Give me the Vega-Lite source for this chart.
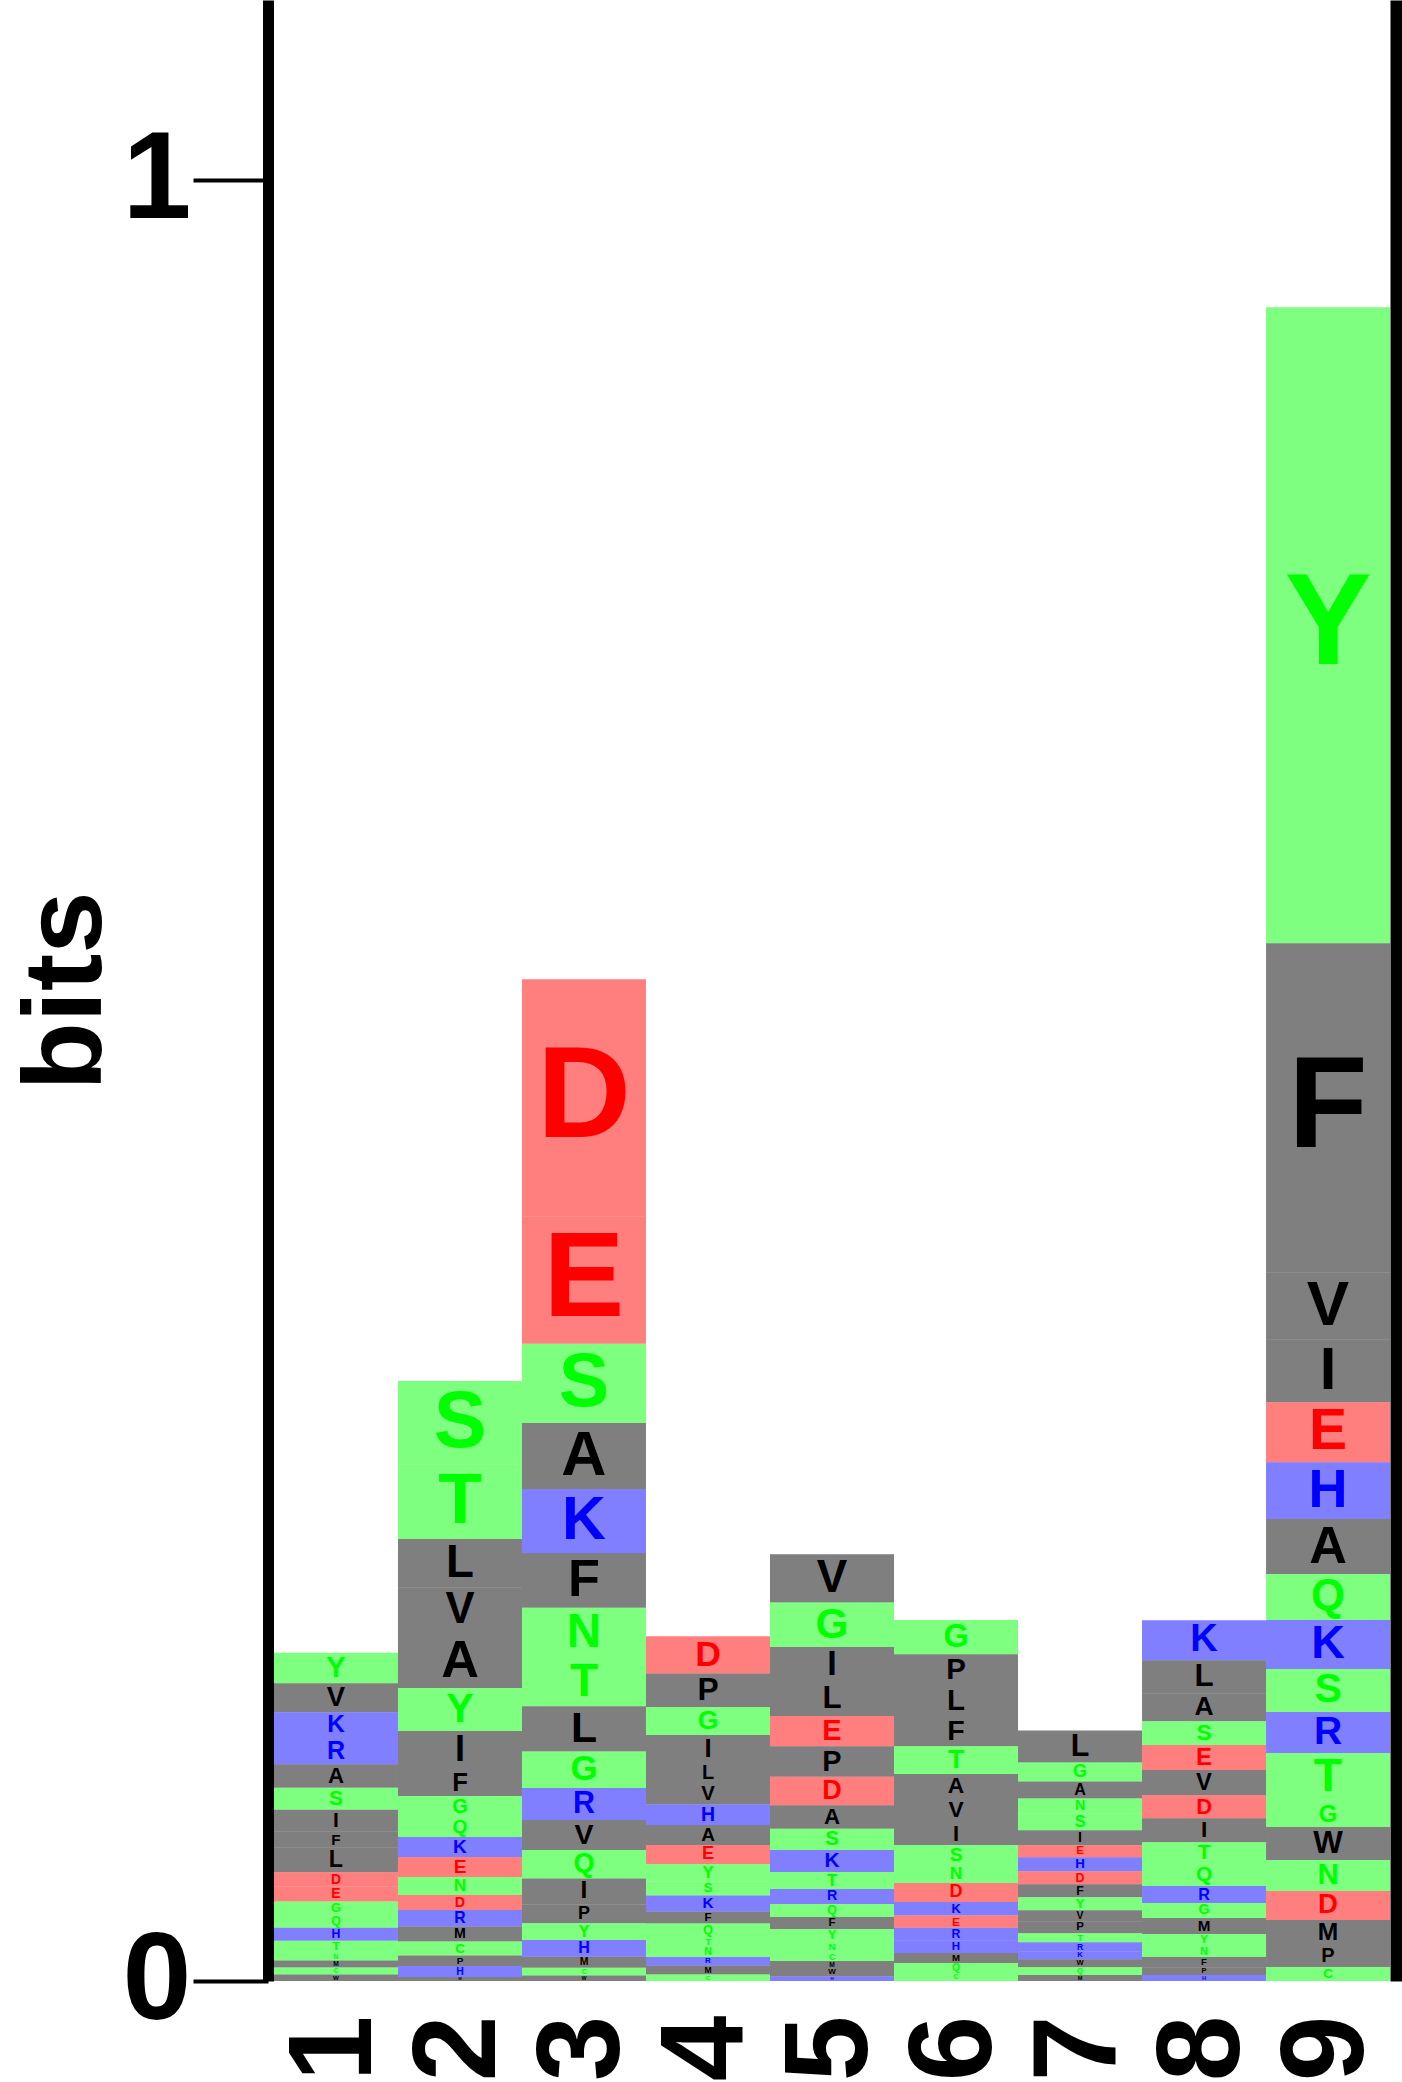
{
  "$schema": "https://vega.github.io/schema/vega-lite/v6.json",
  "width": 1128,
  "height": 1981,
  "autosize": {"type": "none"},
  "padding": {"left": 268, "top": 0, "right": 6, "bottom": 101},
  "background": "white",
  "config": {"view": {"stroke": null}},
  "data": {"values": [
    {"p":"1","a":"Y","b":0.0169},{"p":"1","a":"V","b":0.0161},{"p":"1","a":"K","b":0.0142},{"p":"1","a":"R","b":0.0147},{"p":"1","a":"A","b":0.0130},{"p":"1","a":"S","b":0.0122},{"p":"1","a":"I","b":0.0122},{"p":"1","a":"F","b":0.0089},{"p":"1","a":"L","b":0.0136},{"p":"1","a":"D","b":0.0081},{"p":"1","a":"E","b":0.0081},{"p":"1","a":"G","b":0.0075},{"p":"1","a":"Q","b":0.0072},{"p":"1","a":"H","b":0.0072},{"p":"1","a":"T","b":0.0067},{"p":"1","a":"N","b":0.0042},{"p":"1","a":"M","b":0.0039},{"p":"1","a":"C","b":0.0039},{"p":"1","a":"W","b":0.0036},
    {"p":"2","a":"S","b":0.0461},{"p":"2","a":"T","b":0.0416},{"p":"2","a":"L","b":0.0267},{"p":"2","a":"V","b":0.0255},{"p":"2","a":"A","b":0.0305},{"p":"2","a":"Y","b":0.0239},{"p":"2","a":"I","b":0.0211},{"p":"2","a":"F","b":0.0150},{"p":"2","a":"G","b":0.0117},{"p":"2","a":"Q","b":0.0111},{"p":"2","a":"K","b":0.0111},{"p":"2","a":"E","b":0.0111},{"p":"2","a":"N","b":0.0100},{"p":"2","a":"D","b":0.0083},{"p":"2","a":"R","b":0.0092},{"p":"2","a":"M","b":0.0083},{"p":"2","a":"C","b":0.0078},{"p":"2","a":"P","b":0.0058},{"p":"2","a":"H","b":0.0061},{"p":"2","a":"W","b":0.0022},
    {"p":"3","a":"D","b":0.1316},{"p":"3","a":"E","b":0.0708},{"p":"3","a":"S","b":0.0441},{"p":"3","a":"A","b":0.0366},{"p":"3","a":"K","b":0.0355},{"p":"3","a":"F","b":0.0305},{"p":"3","a":"N","b":0.0278},{"p":"3","a":"T","b":0.0269},{"p":"3","a":"L","b":0.0250},{"p":"3","a":"G","b":0.0203},{"p":"3","a":"R","b":0.0178},{"p":"3","a":"V","b":0.0167},{"p":"3","a":"Q","b":0.0158},{"p":"3","a":"I","b":0.0144},{"p":"3","a":"P","b":0.0105},{"p":"3","a":"Y","b":0.0092},{"p":"3","a":"H","b":0.0094},{"p":"3","a":"M","b":0.0061},{"p":"3","a":"C","b":0.0042},{"p":"3","a":"W","b":0.0031},
    {"p":"4","a":"D","b":0.0208},{"p":"4","a":"P","b":0.0186},{"p":"4","a":"G","b":0.0155},{"p":"4","a":"I","b":0.0150},{"p":"4","a":"L","b":0.0117},{"p":"4","a":"V","b":0.0119},{"p":"4","a":"H","b":0.0114},{"p":"4","a":"A","b":0.0111},{"p":"4","a":"E","b":0.0105},{"p":"4","a":"Y","b":0.0097},{"p":"4","a":"S","b":0.0078},{"p":"4","a":"K","b":0.0089},{"p":"4","a":"F","b":0.0067},{"p":"4","a":"Q","b":0.0075},{"p":"4","a":"T","b":0.0050},{"p":"4","a":"N","b":0.0061},{"p":"4","a":"R","b":0.0047},{"p":"4","a":"M","b":0.0050},{"p":"4","a":"C","b":0.0036},
    {"p":"5","a":"V","b":0.0267},{"p":"5","a":"G","b":0.0247},{"p":"5","a":"I","b":0.0200},{"p":"5","a":"L","b":0.0183},{"p":"5","a":"E","b":0.0169},{"p":"5","a":"P","b":0.0169},{"p":"5","a":"D","b":0.0158},{"p":"5","a":"A","b":0.0130},{"p":"5","a":"S","b":0.0119},{"p":"5","a":"K","b":0.0122},{"p":"5","a":"T","b":0.0094},{"p":"5","a":"R","b":0.0083},{"p":"5","a":"Q","b":0.0072},{"p":"5","a":"F","b":0.0067},{"p":"5","a":"Y","b":0.0072},{"p":"5","a":"N","b":0.0056},{"p":"5","a":"C","b":0.0050},{"p":"5","a":"M","b":0.0039},{"p":"5","a":"W","b":0.0047},{"p":"5","a":"H","b":0.0025},
    {"p":"6","a":"G","b":0.0189},{"p":"6","a":"P","b":0.0172},{"p":"6","a":"L","b":0.0172},{"p":"6","a":"F","b":0.0167},{"p":"6","a":"T","b":0.0155},{"p":"6","a":"A","b":0.0133},{"p":"6","a":"V","b":0.0133},{"p":"6","a":"I","b":0.0128},{"p":"6","a":"S","b":0.0111},{"p":"6","a":"N","b":0.0100},{"p":"6","a":"D","b":0.0105},{"p":"6","a":"K","b":0.0075},{"p":"6","a":"E","b":0.0069},{"p":"6","a":"R","b":0.0072},{"p":"6","a":"H","b":0.0067},{"p":"6","a":"M","b":0.0056},{"p":"6","a":"Q","b":0.0061},{"p":"6","a":"C","b":0.0039},
    {"p":"7","a":"L","b":0.0178},{"p":"7","a":"G","b":0.0105},{"p":"7","a":"A","b":0.0094},{"p":"7","a":"N","b":0.0083},{"p":"7","a":"S","b":0.0094},{"p":"7","a":"I","b":0.0083},{"p":"7","a":"E","b":0.0067},{"p":"7","a":"H","b":0.0078},{"p":"7","a":"D","b":0.0072},{"p":"7","a":"F","b":0.0072},{"p":"7","a":"Y","b":0.0072},{"p":"7","a":"V","b":0.0061},{"p":"7","a":"P","b":0.0067},{"p":"7","a":"T","b":0.0050},{"p":"7","a":"R","b":0.0050},{"p":"7","a":"K","b":0.0044},{"p":"7","a":"W","b":0.0044},{"p":"7","a":"Q","b":0.0044},{"p":"7","a":"M","b":0.0033},
    {"p":"8","a":"K","b":0.0222},{"p":"8","a":"L","b":0.0183},{"p":"8","a":"A","b":0.0155},{"p":"8","a":"S","b":0.0133},{"p":"8","a":"E","b":0.0139},{"p":"8","a":"V","b":0.0139},{"p":"8","a":"D","b":0.0128},{"p":"8","a":"I","b":0.0133},{"p":"8","a":"T","b":0.0122},{"p":"8","a":"Q","b":0.0122},{"p":"8","a":"R","b":0.0094},{"p":"8","a":"G","b":0.0083},{"p":"8","a":"M","b":0.0089},{"p":"8","a":"Y","b":0.0067},{"p":"8","a":"N","b":0.0061},{"p":"8","a":"F","b":0.0056},{"p":"8","a":"P","b":0.0044},{"p":"8","a":"H","b":0.0033},
    {"p":"9","a":"Y","b":0.3531},{"p":"9","a":"F","b":0.1827},{"p":"9","a":"V","b":0.0372},{"p":"9","a":"I","b":0.0350},{"p":"9","a":"E","b":0.0333},{"p":"9","a":"H","b":0.0316},{"p":"9","a":"A","b":0.0305},{"p":"9","a":"Q","b":0.0255},{"p":"9","a":"K","b":0.0272},{"p":"9","a":"S","b":0.0239},{"p":"9","a":"R","b":0.0228},{"p":"9","a":"T","b":0.0272},{"p":"9","a":"G","b":0.0139},{"p":"9","a":"W","b":0.0183},{"p":"9","a":"N","b":0.0172},{"p":"9","a":"D","b":0.0161},{"p":"9","a":"M","b":0.0144},{"p":"9","a":"P","b":0.0117},{"p":"9","a":"C","b":0.0078}
  ]},
  "transform": [
    {"window": [{"op": "row_number", "as": "o"}], "groupby": ["p"]},
    {"stack": "b", "groupby": ["p"], "sort": [{"field": "o", "order": "descending"}], "as": ["b0", "b1"]},
    {"calculate": "(datum.b0 + datum.b1) / 2", "as": "m"}
  ],
  "encoding": {
    "x": {
      "field": "p", "type": "ordinal",
      "scale": {"paddingInner": 0, "paddingOuter": 0.048},
      "axis": {
        "title": null, "domain": false, "ticks": false, "tickSize": 0, "grid": false,
        "labelAngle": -90, "labelAlign": "right", "labelBaseline": "middle",
        "labelFont": "Liberation Sans", "labelFontWeight": "bold", "labelFontSize": 118,
        "labelColor": "black", "labelPadding": 34
      }
    },
    "color": {
      "field": "a", "type": "nominal", "legend": null,
      "scale": {
        "domain": ["A","V","L","I","P","W","F","M","G","S","T","Y","C","Q","N","K","R","H","D","E"],
        "range": ["#000000","#000000","#000000","#000000","#000000","#000000","#000000","#000000","#00ff00","#00ff00","#00ff00","#00ff00","#00ff00","#00ff00","#00ff00","#0000ff","#0000ff","#0000ff","#ff0000","#ff0000"]
      }
    }
  },
  "layer": [
    {
      "mark": {"type": "bar", "fillOpacity": 0.5, "strokeWidth": 0},
      "encoding": {
        "y": {
          "field": "b0", "type": "quantitative",
          "scale": {"domain": [0, 1.1], "nice": false, "zero": true},
          "axis": {
            "values": [0, 1], "format": "d", "grid": false,
            "title": "bits", "titleFont": "Liberation Sans", "titleFontWeight": "bold",
            "titleFontSize": 112, "titleColor": "black", "titlePadding": -2,
            "labelFont": "Liberation Sans", "labelFontWeight": "bold", "labelFontSize": 124,
            "labelColor": "black", "labelPadding": 2, "labelFlush": false, "labelOverlap": false,
            "tickSize": 75, "tickWidth": 4, "tickColor": "black",
            "domainWidth": 11, "domainColor": "black"
          }
        },
        "y2": {"field": "b1"}
      }
    },
    {
      "mark": {"type": "text", "font": "Liberation Sans", "fontWeight": "bold", "baseline": "middle", "align": "center"},
      "encoding": {
        "y": {
          "field": "m", "type": "quantitative",
          "scale": {"domain": [0, 1.1], "nice": false, "zero": true},
          "axis": {"orient": "right", "labels": false, "ticks": false, "title": null, "grid": false, "domainWidth": 12, "domainColor": "black"}
        },
        "text": {"field": "a"},
        "size": {"field": "b", "type": "quantitative", "legend": null, "scale": {"domain": [0, 0.076], "range": [0, 130], "clamp": true}}
      }
    }
  ],
  "resolve": {"axis": {"y": "independent"}}
}
